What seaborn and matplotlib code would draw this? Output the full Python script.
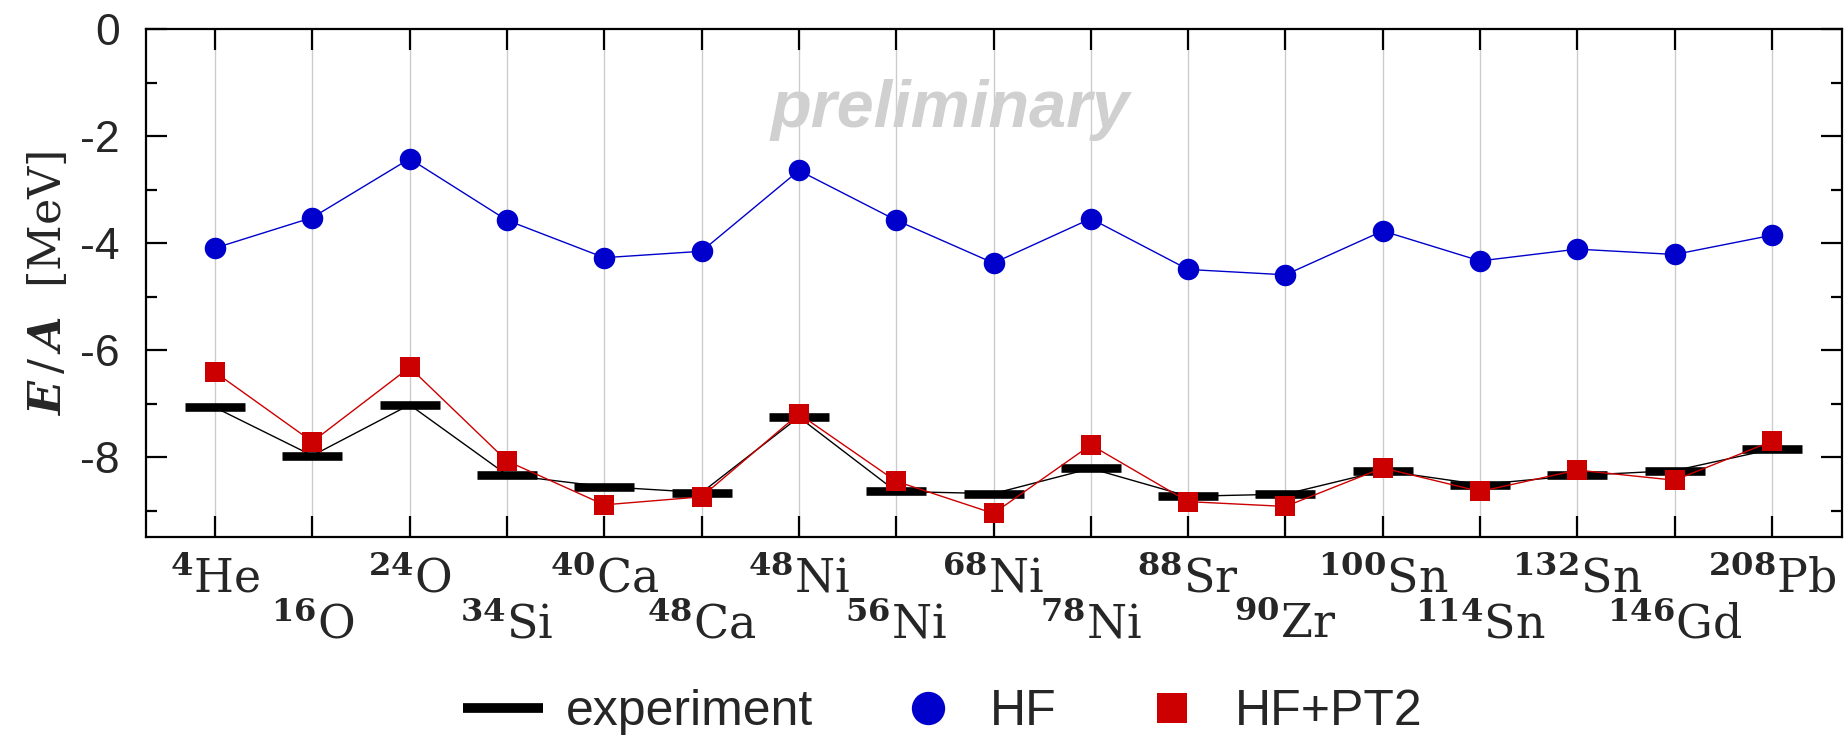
import pandas as pd
import matplotlib.pyplot as plt
import seaborn as sns
from matplotlib.lines import Line2D
from matplotlib.ticker import MultipleLocator

# nuclei along the x axis
nuclei = ['4He', '16O', '24O', '34Si', '40Ca', '48Ca', '48Ni', '56Ni', '68Ni',
          '78Ni', '88Sr', '90Zr', '100Sn', '114Sn', '132Sn', '146Gd', '208Pb']
mass_numbers = ['4', '16', '24', '34', '40', '48', '48', '56', '68',
                '78', '88', '90', '100', '114', '132', '146', '208']
symbols = ['He', 'O', 'O', 'Si', 'Ca', 'Ca', 'Ni', 'Ni', 'Ni',
           'Ni', 'Sr', 'Zr', 'Sn', 'Sn', 'Sn', 'Gd', 'Pb']

# energy per nucleon [MeV]
experiment = [-7.07, -7.97, -7.02, -8.33, -8.55, -8.66, -7.25, -8.64, -8.68,
              -8.21, -8.73, -8.69, -8.25, -8.51, -8.34, -8.25, -7.85]
hf = [-4.09, -3.52, -2.42, -3.57, -4.27, -4.15, -2.64, -3.57, -4.37,
      -3.54, -4.49, -4.59, -3.77, -4.33, -4.11, -4.21, -3.85]
hf_pt2 = [-6.41, -7.71, -6.32, -8.07, -8.89, -8.74, -7.19, -8.45, -9.05,
          -7.77, -8.83, -8.92, -8.20, -8.64, -8.24, -8.43, -7.70]

df = pd.DataFrame({'idx': range(len(nuclei)), 'nucleus': nuclei,
                   'experiment': experiment, 'HF': hf, 'HF+PT2': hf_pt2})

sns.set_theme(style='ticks')
plt.rcParams['font.family'] = ['Liberation Sans', 'DejaVu Sans']
plt.rcParams['axes.unicode_minus'] = False
plt.rcParams['mathtext.fontset'] = 'custom'
plt.rcParams['mathtext.rm'] = 'DejaVu Serif'
plt.rcParams['mathtext.bf'] = 'DejaVu Serif:bold'
plt.rcParams['mathtext.it'] = 'DejaVu Serif:italic:bold'

fig = plt.figure(figsize=(18.45, 7.39), dpi=100)
ax = fig.add_axes([0.0791, 0.2727, 0.9193, 0.6877])

blue = '#0000cc'
red = '#cc0000'

# experiment: black bars joined by a thin line
sns.lineplot(data=df, x='idx', y='experiment', ax=ax, color='black', linewidth=1.0,
             marker='_', markersize=43, markeredgewidth=6.2, markeredgecolor='black',
             legend=False, zorder=3)
sns.lineplot(data=df, x='idx', y='HF', ax=ax, color=blue, linewidth=1.0,
             marker='o', markersize=15.5, markeredgewidth=0, markerfacecolor=blue,
             legend=False, zorder=4)
sns.lineplot(data=df, x='idx', y='HF+PT2', ax=ax, color=red, linewidth=1.0,
             marker='s', markersize=14, markeredgewidth=0, markerfacecolor=red,
             legend=False, zorder=5)

ax.set_xlim(-0.71, 16.72)
ax.set_ylim(-9.5, 0)
ax.yaxis.set_major_locator(MultipleLocator(2))
ax.yaxis.set_minor_locator(MultipleLocator(1))
ax.set_xticks(df['idx'])
ax.set_xticklabels([r'$^{\mathbf{%s}}$%s' % (a, s) for a, s in zip(mass_numbers, symbols)],
                   family='DejaVu Serif', fontsize=33)
ax.xaxis.grid(True, color='#cccccc', linewidth=1.0)
ax.set_axisbelow(True)

ax.tick_params(axis='both', which='both', direction='in', top=True, right=True,
               width=1.6, color='black')
ax.tick_params(axis='both', which='major', length=15)
ax.tick_params(axis='y', which='minor', length=8)
ax.tick_params(axis='y', labelsize=32, pad=19)
ax.tick_params(axis='x', which='minor', bottom=False, top=False)
for sp in ax.spines.values():
    sp.set_linewidth(1.6)
    sp.set_color('black')

# staggered nucleus labels
for i, t in enumerate(ax.xaxis.get_major_ticks()):
    t.set_pad(14 if i % 2 == 0 else 47)

ax.set_xlabel('')
ax.set_ylabel(r'$E\,/\,A$  [MeV]', family='DejaVu Serif', fontsize=32, labelpad=7)

ax.text(7.55, -1.82, 'preliminary', ha='center', va='baseline', fontsize=48,
        fontweight='bold', fontstyle='italic', color='#d0d0d0', zorder=1)

handles = [
    Line2D([], [], color='black', marker='_', markersize=57, markeredgewidth=7, linestyle='none'),
    Line2D([], [], color=blue, marker='o', markersize=24, markeredgewidth=0, linestyle='none'),
    Line2D([], [], color=red, marker='s', markersize=22, markeredgewidth=0, linestyle='none'),
]
fig.legend(handles, ['experiment', 'HF', 'HF+PT2'], loc='center',
           bbox_to_anchor=(0.515, 0.036), ncol=3, frameon=False, fontsize=36,
           handlelength=1.0, handletextpad=0.75, columnspacing=1.8,
           borderaxespad=0, borderpad=0)

fig.savefig('out.png', dpi=100)
